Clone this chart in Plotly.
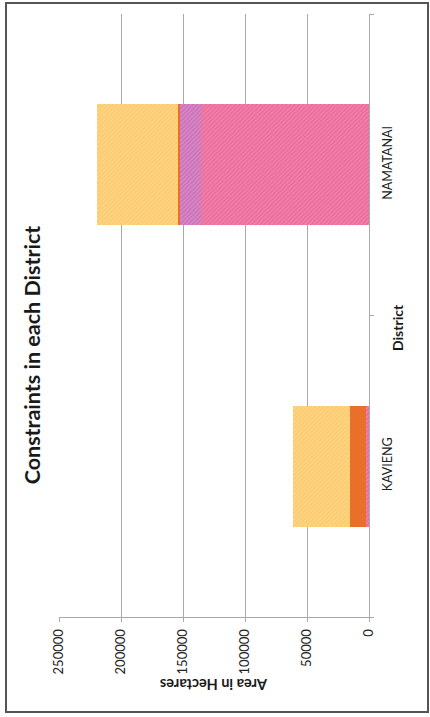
import plotly.graph_objects as go

# Districts and constraint areas (hectares), stacked from the zero line outward
districts = ["KAVIENG", "NAMATANAI"]
series_names = ["Constraint 1", "Constraint 2", "Constraint 3", "Constraint 4"]
constraint_1 = [2600, 135100]
constraint_2 = [0, 17800]
constraint_3 = [12600, 1000]
constraint_4 = [46300, 65400]
value_ticks = [0, 50000, 100000, 150000, 200000, 250000]

series_values = [constraint_1, constraint_2, constraint_3, constraint_4]
styles = [
    dict(color="#EE7AA2", pattern=dict(shape="/", bgcolor="#F283AA", fgcolor="#DC5289", size=3, solidity=0.5)),
    dict(color="#D27AC0", pattern=dict(shape="/", bgcolor="#D98AC8", fgcolor="#BC52A4", size=3, solidity=0.5)),
    dict(color="#E8702A"),
    dict(color="#FFCC70", pattern=dict(shape="/", bgcolor="#FFD889", fgcolor="#F8B64C", size=3, solidity=0.5)),
]

fig = go.Figure()
for name, vals, st in zip(series_names, series_values, styles):
    fig.add_trace(go.Bar(
        y=districts, x=vals, name=name, orientation="h",
        marker=dict(line=dict(width=0), **st),
    ))

# plot area in pixels: x 59..369, y 14..617
L, R, T, B = 59, 369, 14, 617
W, H = 430, 717

def px(x):
    return (x - L) / (R - L)

def py(y):
    return (B - y) / (B - T)

grey = "#A9A9A9"
font_family = "Lato, 'Open Sans', sans-serif"

fig.update_layout(
    width=W, height=H,
    margin=dict(l=L, r=W - R, t=T, b=H - B),
    paper_bgcolor="white", plot_bgcolor="white",
    barmode="stack", bargap=0.6,
    showlegend=False,
    font=dict(family=font_family, color="#1a1a1a"),
    xaxis=dict(
        range=[250000, 0], tickvals=value_ticks, ticktext=[str(v) for v in value_ticks],
        tickangle=-90, tickfont=dict(size=13, color="#222"), ticklabelstandoff=2,
        showgrid=True, gridcolor=grey, gridwidth=1,
        showline=True, linecolor=grey, linewidth=1,
        ticks="outside", ticklen=4, tickcolor=grey,
        zeroline=False, fixedrange=True,
    ),
    yaxis=dict(
        side="right", tickangle=-90, tickfont=dict(size=12.5, color="#222"),
        ticklabelstandoff=7,
        showline=True, linecolor=grey, linewidth=1,
        ticks="outside", ticklen=4, tickcolor=grey, tickson="boundaries",
        showgrid=False, fixedrange=True,
    ),
    shapes=[dict(
        type="rect", xref="paper", yref="paper",
        x0=px(6), x1=px(428), y0=py(712), y1=py(3),
        line=dict(color="#555555", width=2), fillcolor="rgba(0,0,0,0)", layer="below",
    )],
    annotations=[
        dict(text="<b>Constraints\u00a0in\u00a0each\u00a0District</b>", xref="paper", yref="paper",
             x=px(32), y=py(355), xanchor="center", yanchor="middle",
             width=330, textangle=-90, showarrow=False,
             font=dict(size=21.5, color="#1a1a1a")),
        dict(text="<b>Area in Hectares</b>", xref="paper", yref="paper",
             x=px(214), y=py(685), xanchor="center", yanchor="middle",
             textangle=180, showarrow=False,
             font=dict(size=14.5, color="#1a1a1a")),
        dict(text="<b>District</b>", xref="paper", yref="paper",
             x=px(397), y=py(328), xanchor="center", yanchor="middle",
             textangle=-90, showarrow=False,
             font=dict(size=14, color="#1a1a1a")),
    ],
)

fig.write_html("out.html")
